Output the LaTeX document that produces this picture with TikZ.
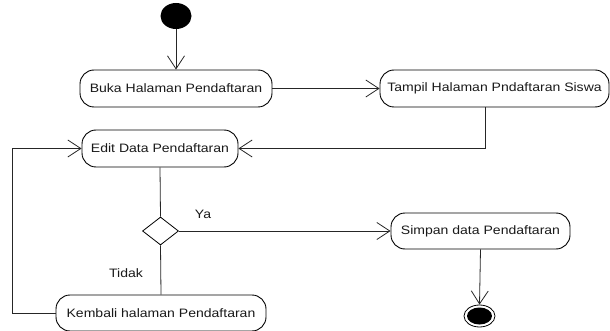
\documentclass[tikz,border=0pt]{standalone}
\usepackage{fontspec}
\setmainfont{Liberation Sans}[FakeStretch=1.15]
\usetikzlibrary{arrows.meta,shapes.geometric}
\begin{document}
\begin{tikzpicture}[x=1pt,y=-1pt,
  act/.style={draw=black, line width=0.9pt, rounded corners=14pt, minimum height=37pt, inner sep=0pt, font=\fontsize{12.2}{14}\selectfont, text=black!90},
  flow/.style={draw=black!85, line width=0.8pt},
  arr/.style={flow, -{Straight Barb[length=13pt,width=17pt,line width=0.8pt]}},
  lbl/.style={font=\fontsize{12.2}{14}\selectfont, text=black!90, inner sep=0pt}]
\useasboundingbox (0,0) rectangle (610,331);
% start
\node[ellipse, fill=black, minimum width=31pt, minimum height=26pt, inner sep=0pt] (start) at (176,16) {};
% activities
\node[act, minimum width=192pt] (buka) at (176,88.5) {Buka Halaman Pendaftaran};
\node[act, minimum width=229pt] (tampil) at (494.5,88.5) {Tampil Halaman Pndaftaran Siswa};
\node[act, minimum width=156pt] (edit) at (160,148.5) {Edit Data Pendaftaran};
\node[diamond, draw=black, line width=0.8pt, minimum width=36pt, minimum height=28pt, inner sep=0pt, fill=white] (dec) at (160.5,231) {};
\node[act, minimum width=179pt, minimum height=36pt] (simpan) at (480.5,231) {Simpan data Pendaftaran};
\node[act, minimum width=210pt, minimum height=36pt] (kembali) at (161,313) {Kembali halaman Pendaftaran};
% end
\node[ellipse, draw=black, line width=0.8pt, fill=white, minimum width=31pt, minimum height=22pt, inner sep=0pt] (endo) at (479.5,316) {};
\node[ellipse, fill=black, minimum width=25pt, minimum height=17pt, inner sep=0pt] (endi) at (479.5,316) {};
% coordinates
\coordinate (c1) at (485,148.5);
\coordinate (c2) at (12,313);
\coordinate (c3) at (12,148.5);
% connectors
\draw[arr] (start) -- (buka.north);
\draw[arr] (buka) -- (tampil);
\draw[arr] (tampil.south -| c1) -- (c1) -- (edit.east);
\draw[flow] (edit.south) -- (dec.north);
\draw[arr] (dec.east) -- (simpan.west);
\draw[flow] (dec.south) -- (kembali.north);
\draw[arr] (kembali.west) -- (c2) -- (c3) -- (edit.west);
\draw[arr] (simpan.south) -- (endo.north);
% labels
\node[lbl] (ya) at (203,214) {Ya};
\node[lbl] (tidak) at (126,273) {Tidak};
\end{tikzpicture}
\end{document}
